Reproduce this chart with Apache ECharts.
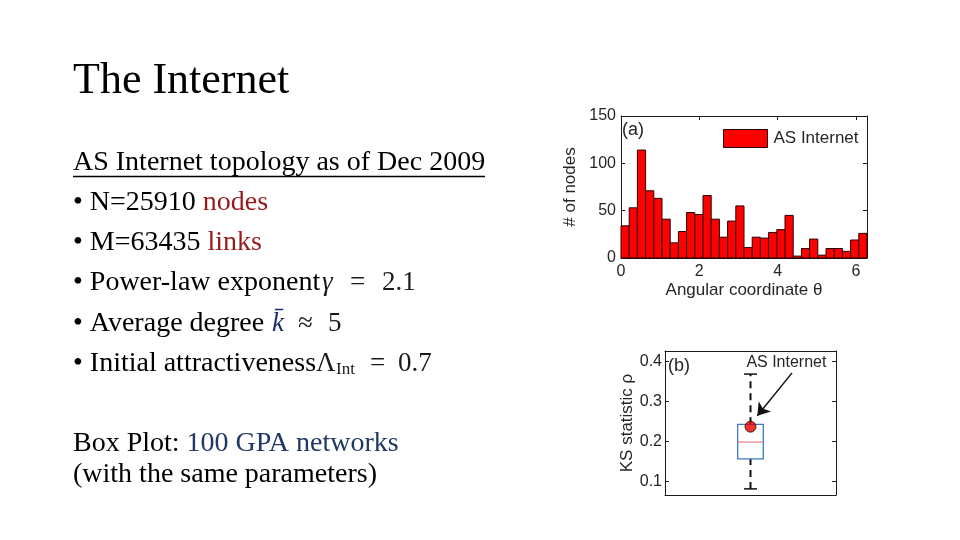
<!DOCTYPE html>
<html><head><meta charset="utf-8">
<script src="https://cdn.jsdelivr.net/npm/echarts@6/dist/echarts.min.js"></script>
<style>html,body{margin:0;padding:0;background:#fff}#c{width:960px;height:540px}</style>
</head><body><div id="c"></div>
<script>
// ---- data ----
const thetaMax = 2 * Math.PI;
const nodeCounts = [34,53,114,71,63,41,16,28,48,46,66,41,22,39,55,11,22,21,27,30,45,2,10,20,3,10,10,7,19,26];
const thetaTicks = [0, 2, 4, 6];
const countTicks = [0, 50, 100, 150];
const ksBox = [0.082, 0.157, 0.199, 0.2435, 0.369]; // lower whisker, Q1, median, Q3, upper whisker
const ksInternet = 0.2375;
const ksTicks = [0.1, 0.2, 0.3, 0.4];
const ksRange = [0.0667, 0.4267];

const binW = thetaMax / nodeCounts.length;
const histData = nodeCounts.map((v, i) => [i * binW, (i + 1) * binW, v]);

const SANS = '"Liberation Sans", Arial, sans-serif';
const SERIF = '"Liberation Serif", "Times New Roman", serif';
const axisCol = '#1a1a1a';
const txtCol = '#262626';

function boxAxis(extra) {
  return Object.assign({
    axisLine: { show: true, onZero: false, lineStyle: { color: axisCol, width: 1 } },
    axisTick: { show: true, inside: true, length: 4, lineStyle: { color: axisCol } },
    splitLine: { show: false },
    axisLabel: { show: false }
  }, extra);
}

const chart = echarts.init(document.getElementById('c'), null, { renderer: 'canvas' });

const txt = (x, y, text, size, extra) => ({
  type: 'text', x, y, silent: true,
  style: Object.assign({ text, fontSize: size, fontFamily: SERIF, fill: '#000', verticalAlign: 'middle', align: 'left' }, extra || {})
});

chart.setOption({
  animation: false,
  backgroundColor: '#fff',
  grid: [
    { left: 621, top: 116, width: 246, height: 142 },
    { left: 665, top: 351, width: 171, height: 144 }
  ],
  legend: {
    left: 723, top: 129, padding: 0, itemWidth: 44, itemHeight: 18, itemGap: 5,
    selectedMode: false,
    textStyle: { fontFamily: SANS, fontSize: 17, color: txtCol, padding: [0, 0, 0, 1] },
    data: [{ name: 'AS Internet', icon: 'rect', itemStyle: { color: '#ff0000', borderColor: '#2a0000', borderWidth: 1 } }]
  },
  xAxis: [
    boxAxis({
      type: 'value', gridIndex: 0, position: 'bottom', min: 0, max: thetaMax, interval: 2,
      axisLabel: { show: true, showMaxLabel: false, fontFamily: SANS, fontSize: 16, color: txtCol, margin: 6,
        formatter: v => thetaTicks.includes(v) ? String(v) : '' },
      name: 'Angular coordinate θ', nameLocation: 'middle', nameGap: 24,
      nameTextStyle: { fontFamily: SANS, fontSize: 17, color: txtCol }
    }),
    boxAxis({ type: 'value', gridIndex: 0, position: 'top', min: 0, max: thetaMax, interval: 2 }),
    boxAxis({ type: 'value', gridIndex: 1, position: 'bottom', min: 0.5, max: 1.5, axisTick: { show: false } }),
    boxAxis({ type: 'value', gridIndex: 1, position: 'top', min: 0.5, max: 1.5, axisTick: { show: false } })
  ],
  yAxis: [
    boxAxis({
      type: 'value', gridIndex: 0, position: 'left', min: 0, max: 150, interval: 50,
      axisLabel: { show: true, fontFamily: SANS, fontSize: 16, color: txtCol, margin: 5,
        formatter: v => countTicks.includes(v) ? String(v) : '' },
      name: '# of nodes', nameLocation: 'middle', nameRotate: 90, nameGap: 42,
      nameTextStyle: { fontFamily: SANS, fontSize: 17, color: txtCol }
    }),
    boxAxis({ type: 'value', gridIndex: 0, position: 'right', min: 0, max: 150, interval: 50 }),
    boxAxis({
      type: 'value', gridIndex: 1, position: 'left', min: ksRange[0], max: ksRange[1],
      minInterval: 0.1, maxInterval: 0.1,
      axisLabel: { show: true, showMinLabel: false, showMaxLabel: false, fontFamily: SANS, fontSize: 16, color: txtCol, margin: 3,
        formatter: v => { const r = Math.round(v * 10) / 10; return ksTicks.includes(r) && Math.abs(v - r) < 1e-6 ? r.toFixed(1) : ''; } },
      name: 'KS statistic ρ', nameLocation: 'middle', nameRotate: 90, nameGap: 28,
      nameTextStyle: { fontFamily: SANS, fontSize: 17, color: txtCol }
    }),
    boxAxis({ type: 'value', gridIndex: 1, position: 'right', min: ksRange[0], max: ksRange[1], minInterval: 0.1, maxInterval: 0.1 })
  ],
  series: [
    {
      name: 'AS Internet', type: 'custom', xAxisIndex: 0, yAxisIndex: 0,
      itemStyle: { color: '#ff0000' },
      encode: { x: [0, 1], y: 2 },
      data: histData,
      renderItem: (params, api) => {
        const p0 = api.coord([api.value(0), 0]);
        const p1 = api.coord([api.value(1), api.value(2)]);
        return {
          type: 'rect',
          shape: { x: p0[0], y: p1[1], width: p1[0] - p0[0], height: p0[1] - p1[1] },
          style: { fill: '#ff0000', stroke: '#2a0000', lineWidth: 1 }
        };
      }
    },
    {
      name: 'GPA boxplot', type: 'custom', xAxisIndex: 2, yAxisIndex: 2,
      encode: { x: 0, y: [1, 2, 3, 4, 5] },
      data: [[1].concat(ksBox)],
      renderItem: (params, api) => {
        const x = api.value(0);
        const lo = api.value(1), q1 = api.value(2), med = api.value(3), q3 = api.value(4), hi = api.value(5);
        const hw = 0.075, cw = 0.038;
        const c = (a, b) => api.coord([a, b]);
        const line = (a, b, style) => ({ type: 'line', shape: { x1: a[0], y1: a[1], x2: b[0], y2: b[1] }, style });
        const dash = { stroke: '#111', lineWidth: 2, lineDash: [7, 5] };
        const solid = { stroke: '#111', lineWidth: 1.5 };
        const tl = c(x - hw, q3), br = c(x + hw, q1);
        return {
          type: 'group',
          children: [
            line(c(x, q3), c(x, hi), dash),
            line(c(x, lo), c(x, q1), dash),
            line(c(x - cw, hi), c(x + cw, hi), solid),
            line(c(x - cw, lo), c(x + cw, lo), solid),
            { type: 'rect', shape: { x: tl[0], y: tl[1], width: br[0] - tl[0], height: br[1] - tl[1] },
              style: { fill: 'none', stroke: '#3a7cc4', lineWidth: 1.3 } },
            line(c(x - hw, med), c(x + hw, med), { stroke: '#e87a7a', lineWidth: 1.2 })
          ]
        };
      }
    },
    {
      name: 'AS Internet KS', type: 'scatter', xAxisIndex: 2, yAxisIndex: 2,
      symbol: 'circle', symbolSize: 11,
      itemStyle: { color: '#e60000', borderColor: '#3a0000', borderWidth: 1 },
      data: [[1, ksInternet]],
      z: 5,
      markLine: {
        silent: true, symbol: ['none', 'arrow'], symbolSize: 12,
        lineStyle: { color: '#111', width: 1.5, type: 'solid' },
        label: { show: false },
        data: [[{ coord: [1.243, 0.372] }, { coord: [1.04, 0.265] }]]
      },
      markPoint: {
        silent: true, symbol: 'circle', symbolSize: 0,
        label: { show: true, position: 'inside', formatter: 'AS Internet', fontFamily: SANS, fontSize: 16, color: txtCol },
        data: [{ coord: [1.21, 0.398] }]
      }
    }
  ],
  graphic: {
    elements: [
      txt(73, 81, 'The Internet', 44),
      { type: 'text', x: 73, y: 163, silent: true,
        style: { text: 'AS Internet topology as of Dec 2009', fontSize: 28, fontFamily: SERIF, fill: '#000', verticalAlign: 'middle' } },
      { type: 'line', silent: true, shape: { x1: 73, y1: 176.5, x2: 485, y2: 176.5 }, style: { stroke: '#000', lineWidth: 1.5 } },
      { type: 'text', x: 73, y: 203, silent: true,
        style: { text: '• N=25910 {r|nodes}', fontSize: 28, fontFamily: SERIF, fill: '#000', verticalAlign: 'middle',
          rich: { r: { fill: '#9a1a1a', fontSize: 28, fontFamily: SERIF } } } },
      { type: 'text', x: 73, y: 243, silent: true,
        style: { text: '• M=63435 {r|links}', fontSize: 28, fontFamily: SERIF, fill: '#000', verticalAlign: 'middle',
          rich: { r: { fill: '#9a1a1a', fontSize: 28, fontFamily: SERIF } } } },
      txt(73, 283, '• Power-law exponent', 28),
      txt(322, 283, 'γ', 27, { fontStyle: 'italic', fill: '#1a1a1a' }),
      txt(350, 283, '=', 27, { fill: '#1a1a1a' }),
      txt(382, 283, '2.1', 27, { fill: '#1a1a1a' }),
      txt(73, 324, '• Average degree', 28),
      txt(272, 324, 'k\u0304', 27, { fontStyle: 'italic', fill: '#1c2f6b' }),
      txt(298, 324, '≈', 27, { fill: '#1a1a1a' }),
      txt(328, 324, '5', 27, { fill: '#1a1a1a' }),
      txt(73, 364, '• Initial attractiveness', 28),
      txt(316, 364, 'Λ', 27, { fill: '#1a1a1a' }),
      txt(336, 370, 'Int', 17, { fill: '#1a1a1a' }),
      txt(370, 364, '=', 27, { fill: '#1a1a1a' }),
      txt(398, 364, '0.7', 27, { fill: '#1a1a1a' }),
      { type: 'text', x: 73, y: 444, silent: true,
        style: { text: 'Box Plot: {b|100 GPA networks}', fontSize: 28, fontFamily: SERIF, fill: '#000', verticalAlign: 'middle',
          rich: { b: { fill: '#1f3864', fontSize: 28, fontFamily: SERIF } } } },
      txt(73, 475, '(with the same parameters)', 28),
      { type: 'text', x: 622, y: 130, silent: true,
        style: { text: '(a)', fontSize: 18, fontFamily: SANS, fill: txtCol, verticalAlign: 'middle' } },
      { type: 'text', x: 668, y: 366, silent: true,
        style: { text: '(b)', fontSize: 18, fontFamily: SANS, fill: txtCol, verticalAlign: 'middle' } }
    ]
  }
});
</script>
</body></html>
